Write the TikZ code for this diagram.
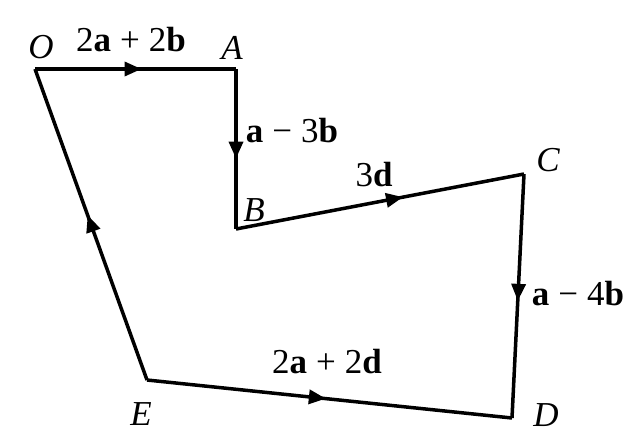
\documentclass[tikz,border=0pt]{standalone}
\usepackage{fontspec}
\setmainfont{Liberation Serif}
\usetikzlibrary{arrows.meta,decorations.markings}
\newcommand{\opsp}{\hspace{0.26em}}
\begin{document}
\begin{tikzpicture}[x=1pt,y=-1pt,
  seg/.style={line width=3.5pt,line join=miter,
    postaction={decorate},
    decoration={markings,mark=at position #1 with {\arrow{Triangle[length=17pt,width=14pt]}}}},
  seg/.default=0.55,
  lbl/.style={font=\fontsize{35}{37}\selectfont,inner sep=0pt},
  vlbl/.style={font=\fontsize{35}{37}\selectfont\itshape,inner sep=0pt}]
\useasboundingbox (0,0) rectangle (640,445);
\coordinate (O) at (35,69);
\coordinate (A) at (236,69);
\coordinate (B) at (236,229);
\coordinate (C) at (524,174);
\coordinate (D) at (512,418);
\coordinate (E) at (147,380);
\draw[seg=0.53] (O) -- (A);
\draw[seg=0.56] (A) -- (B);
\draw[seg=0.58] (B) -- (C);
\draw[seg=0.52] (C) -- (D);
\draw[seg=0.49] (E) -- (D);
\draw[seg=0.53] (E) -- (O);
\node[vlbl] (lO) at (41,47) {O};
\node[vlbl] (lA) at (232,48) {A};
\node[vlbl] (lB) at (254,210) {B};
\node[vlbl] (lC) at (548,160) {C};
\node[vlbl] (lD) at (546,415) {D};
\node[vlbl] (lE) at (141,414) {E};
\node[lbl] (tOA) at (131,40) {2\textbf{a}\opsp+\opsp2\textbf{b}};
\node[lbl] (tAB) at (292,131) {\textbf{a}\opsp−\opsp3\textbf{b}};
\node[lbl] (tBC) at (374,175) {3\textbf{d}};
\node[lbl] (tCD) at (578,294) {\textbf{a}\opsp−\opsp4\textbf{b}};
\node[lbl] (tED) at (327,362) {2\textbf{a}\opsp+\opsp2\textbf{d}};
\end{tikzpicture}
\end{document}
